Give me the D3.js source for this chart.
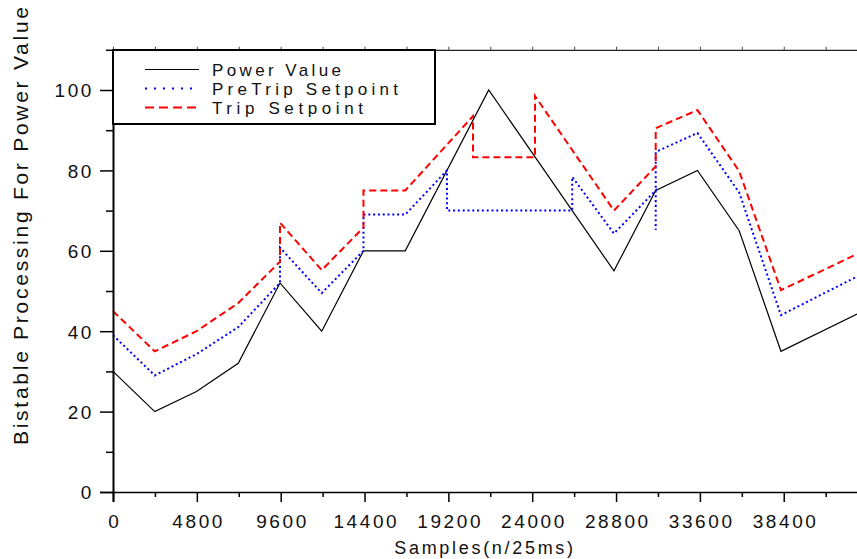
<!DOCTYPE html>
<html>
<head>
<meta charset="utf-8">
<script src="https://cdn.jsdelivr.net/npm/d3@7"></script>
<style>
  html, body { margin: 0; padding: 0; background: #fff; }
  svg { display: block; }
  text { font-family: 'Liberation Sans', Arial, sans-serif; fill: #111; }
</style>
</head>
<body>
<svg id="chart" width="857" height="559"></svg>
<script>
// ---- data ----
const powerX = [0, 2390, 4780, 7170, 9560, 11950, 14340, 16730, 21510, 28680, 31070, 33460, 35850, 38240, 42600];
const powerY = [30, 20, 25, 32, 52, 40, 60, 60, 100, 55, 75, 80, 65, 35, 44.3];

const preTripX = [0, 2390, 4780, 7170, 9560, 9560, 11950, 14340, 14340, 16730, 19120, 19120, 26290, 26290, 28680, 31070, 31070, 31070, 33460, 35850, 38240, 42600];
const preTripY = [39, 29, 34.3, 41, 52, 60.8, 49.5, 60, 69, 69, 80, 70, 70, 78.4, 64.3, 75, 65.2, 84.6, 89.3, 74.5, 44, 53.6];

const tripX = [0, 2390, 4780, 7170, 9560, 9560, 11950, 14340, 14340, 16730, 20610, 20610, 24160, 24160, 28680, 31070, 31070, 33460, 35850, 38240, 42600];
const tripY = [45, 35, 40, 47, 57.3, 67, 55.2, 65.8, 75, 75, 93.5, 83.3, 83.3, 98.5, 70, 81, 90.5, 95, 79.8, 50.2, 59.2];

const xMajorTicks = [0, 4800, 9600, 14400, 19200, 24000, 28800, 33600, 38400];
const xMinorTicks = [2400, 7200, 12000, 16800, 21600, 26400, 31200, 36000, 40800];
const yMajorTicks = [0, 20, 40, 60, 80, 100];
const yMinorTicks = [10, 30, 50, 70, 90, 110];

const seriesNames = ["Power Value", "PreTrip Setpoint", "Trip Setpoint"];
const seriesColors = ["#000000", "#0000ff", "#ff0000"];

const xTitle = "Samples(n/25ms)";
const yTitle = "Bistable Processing For Power Value";

// ---- layout ----
const svg = d3.select("#chart");
const pLeft = 113, pRight = 857.1, pTop = 49.8, pBottom = 492;

const x = d3.scaleLinear().domain([0, 42600]).range([pLeft, pRight]);
const y = d3.scaleLinear().domain([0, 110]).range([pBottom, pTop]);

const LS = 2.6; // letter spacing
const tickFont = 19;

// top frame axis
const gTop = svg.append("g").attr("transform", `translate(0,${y(110)})`)
  .call(d3.axisTop(x).tickValues(xMajorTicks.concat(xMinorTicks)).tickSize(3).tickSizeOuter(0).tickFormat(""));
gTop.select(".domain").attr("stroke", "#222").attr("stroke-width", 1.2);

// lines
const series = [
  {xs: powerX, ys: powerY, color: seriesColors[0], dash: null, w: 1.2},
  {xs: preTripX, ys: preTripY, color: seriesColors[1], dash: "2,2.8", w: 2},
  {xs: tripX, ys: tripY, color: seriesColors[2], dash: "7,4", w: 2}
];
const line = d3.line().x(d => x(d[0])).y(d => y(d[1]));
series.forEach(s => {
  const pts = s.xs.map((v, i) => [v, s.ys[i]]);
  svg.append("path").datum(pts)
    .attr("d", line).attr("fill", "none")
    .attr("stroke", s.color).attr("stroke-width", s.w)
    .attr("stroke-dasharray", s.dash);
});

// bottom axis
const gxMinor = svg.append("g").attr("class", "ax").attr("transform", `translate(0,${pBottom})`)
  .call(d3.axisBottom(x).tickValues(xMinorTicks).tickSize(5).tickSizeOuter(0).tickFormat(""));
gxMinor.select(".domain").remove();
const gx = svg.append("g").attr("class", "ax").attr("transform", `translate(0,${pBottom})`)
  .call(d3.axisBottom(x).tickValues(xMajorTicks).tickSize(10).tickSizeOuter(0).tickFormat(d3.format("d")));
gx.select(".domain").attr("d", `M${pLeft - 13},0.5H${pRight}`).attr("stroke", "#000").attr("stroke-width", 1.6);
gx.selectAll("text")
  .attr("y", 36).attr("dy", 0).attr("dx", LS / 2)
  .style("font-size", tickFont + "px").style("letter-spacing", LS + "px")
  .attr("fill", "#111");

// left axis
const gyMinor = svg.append("g").attr("class", "ax").attr("transform", `translate(${pLeft},0)`)
  .call(d3.axisLeft(y).tickValues(yMinorTicks).tickSize(7).tickSizeOuter(0).tickFormat(""));
gyMinor.select(".domain").remove();
const gy = svg.append("g").attr("class", "ax").attr("transform", `translate(${pLeft},0)`)
  .call(d3.axisLeft(y).tickValues(yMajorTicks).tickSize(13).tickSizeOuter(0).tickFormat(d3.format("d")).tickPadding(6));
gy.select(".domain").attr("d", `M0.5,${pTop}V${pBottom + 10}`).attr("stroke", "#000").attr("stroke-width", 2);
svg.selectAll("g.ax g.tick line").attr("stroke", "#000").attr("stroke-width", 1.5);
gTop.selectAll("g.tick line").attr("stroke", "#444").attr("stroke-width", 1);
gy.selectAll("text")
  .attr("dy", "0.36em")
  .style("font-size", tickFont + "px").style("letter-spacing", LS + "px")
  .attr("fill", "#111");

// axis titles
svg.append("text")
  .attr("x", 485).attr("y", 554).attr("text-anchor", "middle")
  .style("font-size", "18px").style("letter-spacing", "2.7px")
  .text(xTitle);
svg.append("text")
  .attr("transform", "translate(28,445) rotate(-90)")
  .attr("text-anchor", "start")
  .style("font-size", "21px")
  .attr("textLength", 438).attr("lengthAdjust", "spacing")
  .text(yTitle);

// legend
const lg = svg.append("g");
lg.append("rect").attr("x", 113).attr("y", 50).attr("width", 322).attr("height", 74)
  .attr("fill", "#fff").attr("stroke", "#000").attr("stroke-width", 2);
const legendDash = [null, "2,7", "9,5"];
const legendW = [1.2, 2, 2];
const legendTextLen = [129, 186, 151];
seriesNames.forEach((name, i) => {
  const cy = 69.5 + i * 19;
  lg.append("line").attr("x1", 145).attr("x2", 199).attr("y1", cy).attr("y2", cy)
    .attr("stroke", seriesColors[i]).attr("stroke-width", legendW[i])
    .attr("stroke-dasharray", legendDash[i]);
  lg.append("text").attr("x", 212).attr("y", cy + 6.3)
    .style("font-size", "17px")
    .attr("textLength", legendTextLen[i]).attr("lengthAdjust", "spacing")
    .text(name);
});
</script>
</body>
</html>
